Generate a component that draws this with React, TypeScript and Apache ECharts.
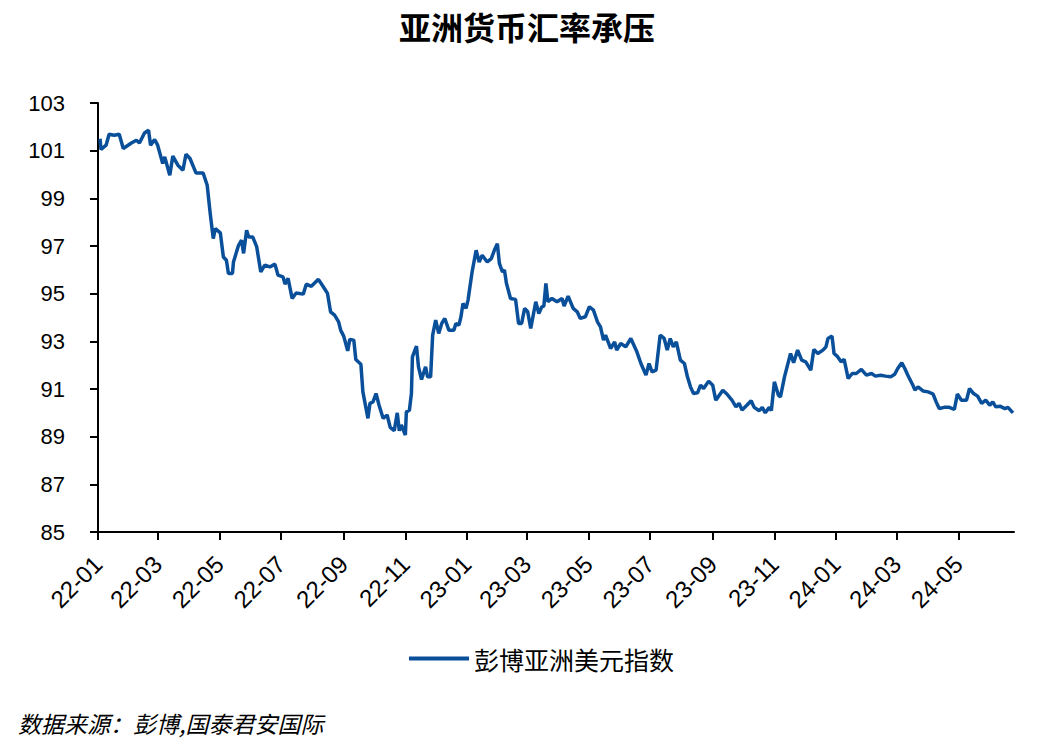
import React, { useEffect, useRef } from "react";
import * as echarts from "echarts";

const TITLE = "亚洲货币汇率承压";
const SERIES_NAME = "彭博亚洲美元指数";
const SOURCE = "数据来源：彭博,国泰君安国际";

const X_TICK_LABELS = [
  "22-01", "22-03", "22-05", "22-07", "22-09", "22-11",
  "23-01", "23-03", "23-05", "23-07", "23-09", "23-11",
  "24-01", "24-03", "24-05",
];
const Y_MIN = 85;
const Y_MAX = 103;
const Y_STEP = 2;
const X_MIN = "2022-01-01";
const X_MAX = "2024-06-25";

const dates = [
  "2022-01-03", "2022-01-04", "2022-01-09", "2022-01-12", "2022-01-17", "2022-01-22", "2022-01-26",
  "2022-02-03", "2022-02-08", "2022-02-11", "2022-02-16", "2022-02-20", "2022-02-22", "2022-02-26",
  "2022-03-01", "2022-03-06", "2022-03-08", "2022-03-13", "2022-03-16", "2022-03-21", "2022-03-26", "2022-03-29",
  "2022-04-02", "2022-04-08", "2022-04-15", "2022-04-19", "2022-04-22", "2022-04-25", "2022-04-27",
  "2022-05-02", "2022-05-05", "2022-05-08", "2022-05-10", "2022-05-14", "2022-05-15", "2022-05-20", "2022-05-23", "2022-05-25", "2022-05-28", "2022-05-30",
  "2022-06-03", "2022-06-07", "2022-06-11", "2022-06-15", "2022-06-20", "2022-06-25", "2022-06-28",
  "2022-07-03", "2022-07-05", "2022-07-08", "2022-07-12", "2022-07-16", "2022-07-23", "2022-07-26", "2022-07-31",
  "2022-08-07", "2022-08-12", "2022-08-16", "2022-08-19", "2022-08-23", "2022-08-27", "2022-08-29",
  "2022-09-01", "2022-09-05", "2022-09-07", "2022-09-11", "2022-09-13", "2022-09-18", "2022-09-20", "2022-09-25", "2022-09-27", "2022-09-30",
  "2022-10-03", "2022-10-06", "2022-10-10", "2022-10-14", "2022-10-17", "2022-10-21", "2022-10-24", "2022-10-26", "2022-10-28",
  "2022-11-01", "2022-11-02", "2022-11-05", "2022-11-07", "2022-11-08", "2022-11-12", "2022-11-14", "2022-11-17", "2022-11-21", "2022-11-23", "2022-11-26", "2022-11-28",
  "2022-12-01", "2022-12-04", "2022-12-07", "2022-12-10", "2022-12-14", "2022-12-19", "2022-12-21", "2022-12-24", "2022-12-26", "2022-12-28", "2022-12-31",
  "2023-01-02", "2023-01-06", "2023-01-10", "2023-01-13", "2023-01-16", "2023-01-21", "2023-01-25", "2023-01-28", "2023-01-31",
  "2023-02-02", "2023-02-05", "2023-02-07", "2023-02-09", "2023-02-13", "2023-02-18", "2023-02-21", "2023-02-24", "2023-02-27",
  "2023-03-02", "2023-03-05", "2023-03-10", "2023-03-13", "2023-03-16", "2023-03-18", "2023-03-20", "2023-03-22", "2023-03-26", "2023-03-31",
  "2023-04-05", "2023-04-07", "2023-04-11", "2023-04-16", "2023-04-20", "2023-04-23", "2023-04-28",
  "2023-05-02", "2023-05-06", "2023-05-10", "2023-05-13", "2023-05-16", "2023-05-18", "2023-05-23", "2023-05-27", "2023-05-29",
  "2023-06-02", "2023-06-07", "2023-06-12", "2023-06-18", "2023-06-22", "2023-06-27", "2023-06-30",
  "2023-07-03", "2023-07-07", "2023-07-11", "2023-07-15", "2023-07-18", "2023-07-21", "2023-07-24", "2023-07-27", "2023-07-31",
  "2023-08-04", "2023-08-07", "2023-08-10", "2023-08-13", "2023-08-17", "2023-08-20", "2023-08-23", "2023-08-28",
  "2023-09-01", "2023-09-04", "2023-09-11", "2023-09-15", "2023-09-20", "2023-09-24", "2023-09-27", "2023-09-30",
  "2023-10-05", "2023-10-09", "2023-10-12", "2023-10-17", "2023-10-20", "2023-10-23", "2023-10-27", "2023-10-29",
  "2023-11-01", "2023-11-05", "2023-11-07", "2023-11-11", "2023-11-14", "2023-11-17", "2023-11-20", "2023-11-24", "2023-11-28",
  "2023-12-02", "2023-12-07", "2023-12-10", "2023-12-14", "2023-12-19", "2023-12-22", "2023-12-24", "2023-12-28", "2023-12-30",
  "2024-01-02", "2024-01-06", "2024-01-09", "2024-01-13", "2024-01-17", "2024-01-21", "2024-01-26", "2024-01-31",
  "2024-02-05", "2024-02-09", "2024-02-14", "2024-02-19", "2024-02-24", "2024-02-28",
  "2024-03-02", "2024-03-06", "2024-03-09", "2024-03-12", "2024-03-17", "2024-03-19", "2024-03-22", "2024-03-27",
  "2024-04-01", "2024-04-06", "2024-04-09", "2024-04-12", "2024-04-17", "2024-04-22", "2024-04-27", "2024-04-30",
  "2024-05-04", "2024-05-09", "2024-05-12", "2024-05-16", "2024-05-20", "2024-05-24", "2024-05-28",
  "2024-06-01", "2024-06-04", "2024-06-07", "2024-06-11", "2024-06-16", "2024-06-19", "2024-06-24",
];

const values = [
  101.5, 101.05, 101.23, 101.69, 101.65, 101.69, 101.09,
  101.32, 101.44, 101.32, 101.74, 101.86, 101.23, 101.47,
  101.23, 100.46, 100.74, 99.97, 100.77, 100.39, 100.18, 100.85,
  100.67, 100.06, 100.06, 99.55, 98.36, 97.31, 97.73,
  97.55, 96.54, 96.4, 95.85, 95.85, 96.33, 97.03, 97.24, 96.69, 97.66, 97.38,
  97.38, 96.96, 95.91, 96.2, 96.12, 96.24, 95.78,
  95.7, 95.4, 95.64, 94.8, 95.03, 94.98, 95.4, 95.31,
  95.6, 95.28, 95.01, 94.24, 94.1, 93.82, 93.47,
  93.22, 92.6, 93.08, 93.05, 92.24, 92.04, 90.88, 89.77, 90.4, 90.46,
  90.81, 90.32, 89.77, 89.91, 89.39, 89.25, 90.0, 89.25, 89.49,
  89.07, 90.04, 90.11, 90.81, 92.35, 92.8, 91.93, 91.4, 91.93, 91.51, 91.51, 93.26,
  93.89, 93.33, 93.75, 93.96, 93.47, 93.47, 93.75, 93.68, 94.03, 94.59, 94.38,
  94.73, 95.91, 96.82, 96.33, 96.61, 96.33, 96.47, 96.82, 97.1,
  96.27, 95.91, 95.99, 95.43, 94.8, 94.76, 93.75, 93.75, 94.38,
  94.24, 93.54, 94.66, 94.17, 94.45, 94.48, 95.43, 94.66, 94.8, 94.66,
  94.8, 94.48, 94.9, 94.38, 94.24, 93.96, 94.03,
  94.45, 94.31, 93.82, 93.61, 93.05, 93.26, 92.7, 92.98, 92.63,
  92.91, 92.77, 93.12, 92.56, 92.07, 91.58, 92.07,
  91.72, 91.79, 93.26, 93.12, 92.63, 93.12, 92.77, 92.98, 92.21,
  92.07, 91.51, 91.09, 90.81, 90.84, 91.16, 91.02, 91.33,
  91.16, 90.53, 90.95, 90.79, 90.53, 90.25, 90.4, 90.12,
  90.33, 90.51, 90.23, 90.09, 90.23, 90.0, 90.23, 90.09,
  91.3, 90.74, 90.67, 91.51, 92.0, 92.49, 92.1, 92.63, 92.21,
  92.14, 91.79, 92.66, 92.49, 92.63, 92.77, 93.12, 93.22, 92.49,
  92.38, 92.14, 92.24, 91.44, 91.65, 91.65, 91.82, 91.58,
  91.65, 91.54, 91.58, 91.54, 91.51, 91.62,
  91.86, 92.1, 91.86, 91.58, 91.16, 90.95, 91.09, 90.92,
  90.88, 90.79, 90.46, 90.18, 90.23, 90.23, 90.14, 90.79,
  90.53, 90.53, 91.02, 90.81, 90.7, 90.4, 90.53,
  90.32, 90.46, 90.25, 90.28, 90.18, 90.23, 90.0,
];

const LINE_COLOR = "#0a4f9a";

function dateToTime(s: string): number {
  const [y, m, d] = s.split("-").map((p) => parseInt(p, 10));
  return new Date(y, m - 1, d).getTime();
}

function labelToTime(label: string): number {
  const [yy, mm] = label.split("-").map((s) => parseInt(s, 10));
  return new Date(2000 + yy, mm - 1, 1).getTime();
}

function timeToLabel(t: number): string {
  const d = new Date(t);
  const yy = String(d.getFullYear() % 100).padStart(2, "0");
  const mm = String(d.getMonth() + 1).padStart(2, "0");
  return `${yy}-${mm}`;
}

export default function App() {
  const ref = useRef<HTMLDivElement>(null);

  useEffect(() => {
    if (!ref.current) return;
    const chart = echarts.init(ref.current, undefined, { renderer: "svg" });
    const tickTimes = X_TICK_LABELS.map(labelToTime);
    const seriesData = dates.map((d, i) => [dateToTime(d), values[i]]);

    chart.setOption({
      animation: false,
      backgroundColor: "#ffffff",
      title: {
        text: TITLE,
        left: "center",
        top: 5,
        textStyle: {
          fontFamily: "Noto Sans CJK SC",
          fontSize: 32,
          fontWeight: "bold",
          color: "#000000",
        },
      },
      grid: {
        left: 98,
        right: 40,
        top: 103,
        bottom: 218,
        containLabel: false,
      },
      legend: {
        left: 404,
        top: 641,
        itemWidth: 60,
        itemHeight: 4,
        itemGap: 10,
        textStyle: {
          fontFamily: "Noto Sans CJK SC",
          fontSize: 25,
          color: "#000000",
        },
        data: [{ name: SERIES_NAME, icon: "rect", itemStyle: { color: LINE_COLOR } }],
      },
      xAxis: {
        type: "value",
        min: dateToTime(X_MIN),
        max: dateToTime(X_MAX),
        splitLine: { show: false },
        axisLine: { show: true, lineStyle: { color: "#000000", width: 2 } },
        axisTick: {
          show: true,
          inside: false,
          length: 8,
          customValues: tickTimes,
          lineStyle: { color: "#000000", width: 2 },
        },
        axisLabel: {
          show: true,
          customValues: tickTimes,
          rotate: 45,
          margin: 28,
          fontFamily: "Liberation Sans",
          fontSize: 24,
          color: "#000000",
          formatter: (v: number) => timeToLabel(v),
        },
      },
      yAxis: {
        type: "value",
        min: Y_MIN,
        max: Y_MAX,
        interval: Y_STEP,
        splitLine: { show: false },
        axisLine: { show: true, lineStyle: { color: "#000000", width: 2 } },
        axisTick: {
          show: true,
          inside: false,
          length: 8,
          lineStyle: { color: "#000000", width: 2 },
        },
        axisLabel: {
          margin: 33,
          fontFamily: "Liberation Sans",
          fontSize: 22,
          color: "#000000",
        },
      },
      graphic: [
        {
          type: "text",
          left: 18,
          top: 711,
          style: {
            text: SOURCE,
            fontFamily: "Noto Sans CJK SC",
            fontSize: 23,
            fontStyle: "italic",
            fill: "#000000",
          },
        },
      ],
      series: [
        {
          name: SERIES_NAME,
          type: "line",
          data: seriesData,
          showSymbol: false,
          symbol: "none",
          lineStyle: { color: LINE_COLOR, width: 3.5 },
          itemStyle: { color: LINE_COLOR },
        },
      ],
    });

    return () => {
      chart.dispose();
    };
  }, []);

  return <div ref={ref} style={{ width: 1054, height: 750, margin: -8 }} />;
}
